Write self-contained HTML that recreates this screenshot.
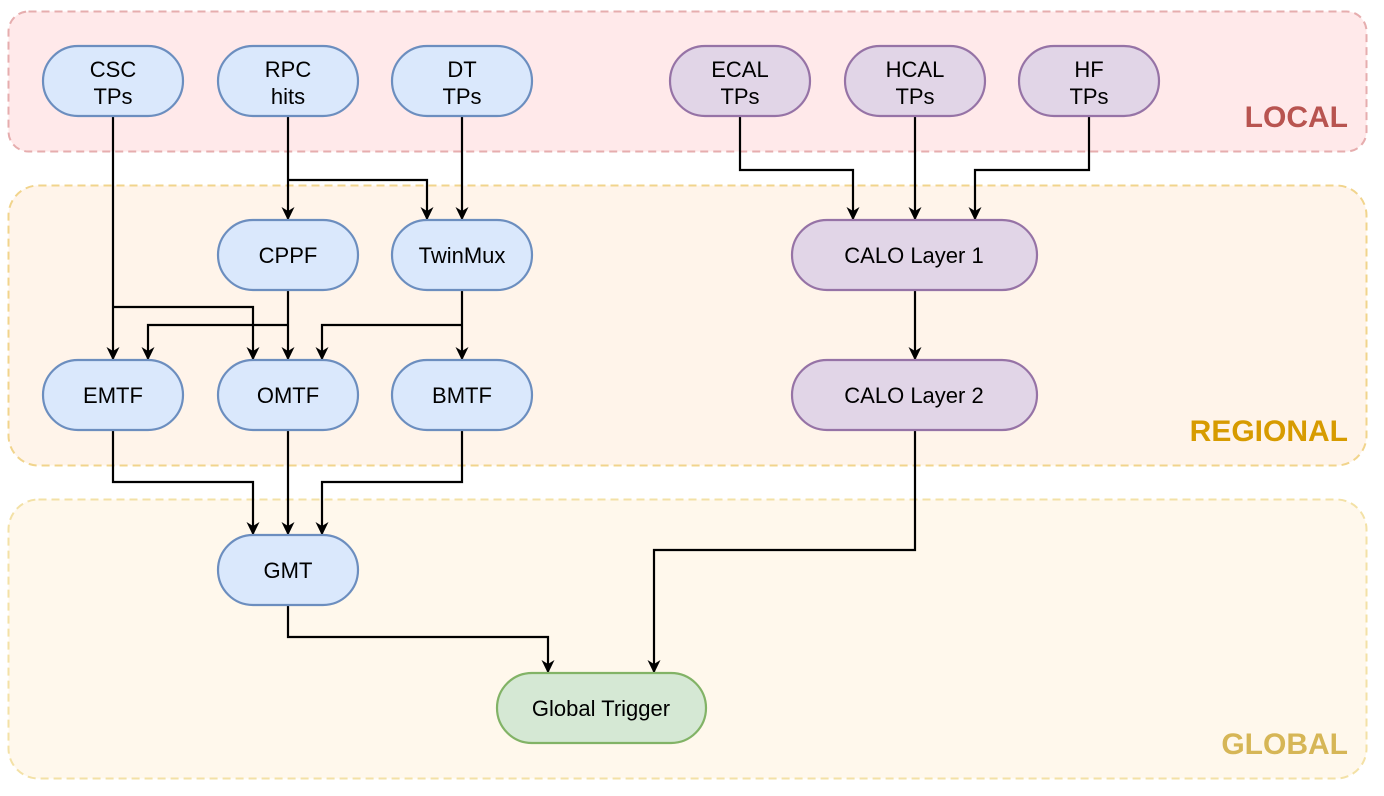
<!DOCTYPE html>
<html><head><meta charset="utf-8"><style>
html,body{margin:0;padding:0;background:#fff;}
svg{display:block;}
text{font-family:"Liberation Sans",Arial,sans-serif;}
</style></head><body>
<svg width="1384" height="796" viewBox="0 0 1384 796" xmlns="http://www.w3.org/2000/svg">
<defs>
<marker id="b" markerWidth="14" markerHeight="16" refX="7" refY="15" orient="0" markerUnits="userSpaceOnUse" viewBox="0 0 14 16">
<path d="M0.5,2 L7,15.5 L13.5,2 L7,6 Z" fill="#000"/>
</marker>
</defs>
<rect x="8.5" y="11.5" width="1358" height="140" rx="20" fill="#ffe9ea" stroke="#e6adae" stroke-width="2" stroke-dasharray="8 5"/>
<rect x="8.5" y="185.5" width="1358" height="280" rx="30" fill="#fff4ea" stroke="#f1d48c" stroke-width="2" stroke-dasharray="8 5"/>
<rect x="8.5" y="499.5" width="1358" height="279" rx="30" fill="#fff8ec" stroke="#f3e1a6" stroke-width="2" stroke-dasharray="8 5"/>
<text x="1348" y="127" text-anchor="end" font-size="30" font-weight="bold" fill="#b85450">LOCAL</text>
<text x="1348" y="441" text-anchor="end" font-size="30" font-weight="bold" fill="#d79b00">REGIONAL</text>
<text x="1348" y="754" text-anchor="end" font-size="30" font-weight="bold" fill="#d6b656">GLOBAL</text>

<g fill="none" stroke="#000" stroke-width="2.2" marker-end="url(#b)">
<path d="M113,116 V360"/>
<path d="M113,307 H253 V360"/>
<path d="M288,116 V220"/>
<path d="M288,180 H427 V220"/>
<path d="M462,116 V220"/>
<path d="M288,290 V360"/>
<path d="M288,325 H148 V360"/>
<path d="M462,290 V360"/>
<path d="M462,325 H322 V360"/>
<path d="M113,430 V482 H253 V535"/>
<path d="M288,430 V535"/>
<path d="M462,430 V482 H322 V535"/>
<path d="M288,605 V637 H548 V673"/>
<path d="M915,430 V550 H654 V673"/>
<path d="M740,116 V170 H853 V220"/>
<path d="M915,116 V220"/>
<path d="M1089,116 V170 H975 V220"/>
<path d="M915,290 V360"/>
</g>

<g stroke-width="2.2" font-size="22" text-anchor="middle">
<g fill="#dae8fc" stroke="#6c8ebf">
<rect x="43" y="46" width="140" height="70" rx="35"/>
<rect x="218" y="46" width="140" height="70" rx="35"/>
<rect x="392" y="46" width="140" height="70" rx="35"/>
<rect x="218" y="220" width="140" height="70" rx="35"/>
<rect x="392" y="220" width="140" height="70" rx="35"/>
<rect x="43" y="360" width="140" height="70" rx="35"/>
<rect x="218" y="360" width="140" height="70" rx="35"/>
<rect x="392" y="360" width="140" height="70" rx="35"/>
<rect x="218" y="535" width="140" height="70" rx="35"/>
</g>
<g fill="#e1d5e7" stroke="#9673a6">
<rect x="670" y="46" width="140" height="70" rx="35"/>
<rect x="845" y="46" width="140" height="70" rx="35"/>
<rect x="1019" y="46" width="140" height="70" rx="35"/>
<rect x="792" y="220" width="245" height="70" rx="35"/>
<rect x="792" y="360" width="245" height="70" rx="35"/>
</g>
<rect x="497" y="673" width="209" height="70" rx="35" fill="#d5e8d4" stroke="#82b366"/>
<g fill="#000" stroke="none">
<text x="113" y="77">CSC</text><text x="113" y="104">TPs</text>
<text x="288" y="77">RPC</text><text x="288" y="104">hits</text>
<text x="462" y="77">DT</text><text x="462" y="104">TPs</text>
<text x="740" y="77">ECAL</text><text x="740" y="104">TPs</text>
<text x="915" y="77">HCAL</text><text x="915" y="104">TPs</text>
<text x="1089" y="77">HF</text><text x="1089" y="104">TPs</text>
<text x="288" y="263">CPPF</text>
<text x="462" y="263">TwinMux</text>
<text x="113" y="403">EMTF</text>
<text x="288" y="403">OMTF</text>
<text x="462" y="403">BMTF</text>
<text x="288" y="578">GMT</text>
<text x="914" y="263">CALO Layer 1</text>
<text x="914" y="403">CALO Layer 2</text>
<text x="601" y="716">Global Trigger</text>
</g>
</g>
</svg>
</body></html>
